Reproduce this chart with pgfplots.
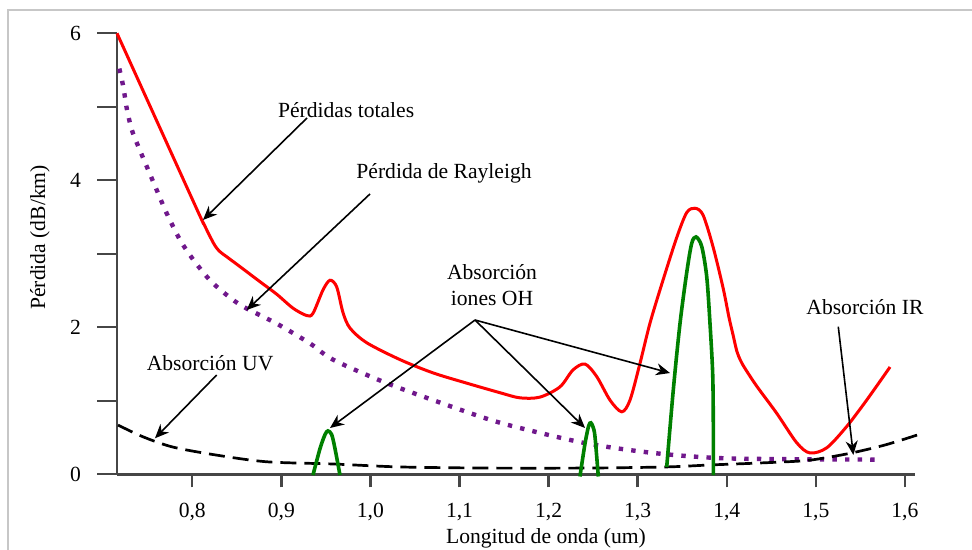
\documentclass[border=0pt]{standalone}
\usepackage{pgfplots}
\pgfplotsset{compat=1.18}
\usepackage{fontspec}
\setmainfont{Liberation Serif}
\usetikzlibrary{arrows.meta}
\definecolor{rayl}{RGB}{112,24,140}
\definecolor{ohgreen}{RGB}{0,128,0}
\definecolor{axgray}{RGB}{70,70,70}
\pgfplotsset{
  common/.style={
    at={(58.5pt,37.85pt)}, anchor=south west,
    scale only axis, width=399pt, height=220.5pt,
    xmin=0.71549, xmax=1.61132, ymin=0, ymax=6,
    axis lines=left,
    axis line style={-, draw=axgray, line width=1.3pt},
    tick align=outside,
    tick style={draw=axgray, line width=1.2pt},
    ticklabel style={font=\fontsize{10.8pt}{13pt}\selectfont},
    /pgf/number format/assume math mode=true,
    clip=false,
  }
}
\begin{document}
\begin{tikzpicture}[font=\fontsize{10.8pt}{13pt}\selectfont]
\useasboundingbox (0,0) rectangle (486pt,275pt);
\draw[black!22, line width=1.2pt] (4pt,0) -- (4pt,270pt) -- (486pt,270pt);
% x axis only
\begin{axis}[common, hide y axis,
  xtick={0.8,0.9,1.0,1.1,1.2,1.3,1.4,1.5,1.6},
  major tick length=6.5pt,
  xticklabel style={yshift=-4.5pt, /pgf/number format/.cd, fixed, fixed zerofill, precision=1, use comma},
]
\end{axis}
% y axis and data
\begin{axis}[common, hide x axis,
  ytick={0,2,4,6}, minor ytick={1,3,5},
  major tick length=10pt, minor tick length=10pt,
  yticklabel style={xshift=-4.5pt},
]
% Perdidas totales
\addplot[red, line width=1.5pt, smooth, tension=0.5] coordinates {
(0.7155,6.00) (0.8050,3.61) (0.8124,3.42) (0.8236,3.15) (0.8300,3.04) (0.8386,2.96) (0.8536,2.825)
(0.8760,2.62) (0.8948,2.45) (0.9131,2.26)
(0.9284,2.16) (0.9355,2.19) (0.9468,2.51) (0.9546,2.64) (0.9621,2.55)
(0.9692,2.20) (0.9770,1.99) (0.9958,1.79) (1.0332,1.56) (1.0702,1.38)
(1.1081,1.24) (1.1454,1.11) (1.1679,1.04) (1.1903,1.05) (1.2128,1.19)
(1.2274,1.42) (1.2409,1.50) (1.2540,1.33) (1.2689,1.01) (1.2821,0.85)
(1.2914,1.01) (1.3026,1.51) (1.3139,2.06) (1.3284,2.64) (1.3438,3.22)
(1.3550,3.56) (1.3643,3.62) (1.3733,3.53) (1.3845,3.10) (1.3958,2.54)
(1.4026,2.13) (1.4070,1.90) (1.4112,1.68) (1.4150,1.56) (1.4200,1.45) (1.4336,1.20)
(1.4561,0.83) (1.4785,0.43) (1.4934,0.29) (1.5122,0.36) (1.5346,0.65)
(1.5571,1.01) (1.5833,1.46)
};
% Rayleigh
\addplot[rayl, line width=2.2pt, dash pattern=on 2.2pt off 4.1pt, smooth, tension=0.5] coordinates {
(0.7181,5.52) (0.7226,5.27) (0.7264,4.98) (0.7320,4.69) (0.7394,4.46)
(0.7488,4.19) (0.7600,3.87) (0.7713,3.55) (0.7862,3.19) (0.8011,2.92)
(0.8199,2.64) (0.8386,2.44) (0.8573,2.28) (0.8948,2.05)
(0.9322,1.78) (0.9580,1.56) (1.0141,1.26) (1.0702,1.01) (1.1297,0.76)
(1.1679,0.63) (1.2428,0.42) (1.3175,0.29) (1.3924,0.22) (1.4800,0.205)
(1.5720,0.20)
};
% UV + IR absorption
\addplot[black, line width=1.35pt, dash pattern=on 8pt off 4pt, smooth, tension=0.5] coordinates {
(0.7166,0.67) (0.7447,0.51) (0.7784,0.37) (0.8278,0.26) (0.8839,0.17)
(0.9580,0.14) (1.0332,0.10) (1.1297,0.085) (1.2420,0.085) (1.3318,0.10)
(1.3810,0.127) (1.4295,0.15) (1.4822,0.18) (1.5036,0.21) (1.5400,0.29)
(1.5780,0.40) (1.6140,0.535)
};
% OH peaks
\addplot[ohgreen, line width=1.8pt, smooth, tension=0.5] coordinates {
(0.9355,-0.01) (0.9434,0.35) (0.9490,0.54) (0.9523,0.59) (0.9565,0.54) (0.9602,0.35) (0.9658,-0.01)
};
\addplot[ohgreen, line width=1.8pt, smooth, tension=0.5] coordinates {
(1.2352,-0.03) (1.2409,0.42) (1.2450,0.66) (1.2475,0.70) (1.2500,0.64) (1.2521,0.51) (1.2558,-0.03)
};
\addplot[ohgreen, line width=1.8pt, smooth, tension=0.5] coordinates {
(1.3326,0.10) (1.3400,1.15) (1.3475,2.05) (1.3550,2.74) (1.3606,3.14) (1.3655,3.23)
(1.3719,3.10) (1.3775,2.69) (1.3812,2.05) (1.3842,1.37) (1.3849,0.69) (1.3849,-0.01)
};
% annotations
\tikzset{ann/.style={-{Stealth[length=7pt,width=6pt]}, line width=0.8pt, black}}
\node at (axis cs:0.9727,4.956) {Pérdidas totales};
\draw[ann] (axis cs:0.9288,4.848) -- (axis cs:0.812,3.46);
\node at (axis cs:1.0826,4.099) {Pérdida de Rayleigh};
\draw[ann] (axis cs:0.9995,3.814) -- (axis cs:0.8611,2.235);
\node at (axis cs:0.82,1.514) {Absorción UV};
\draw[ann] (axis cs:0.8274,1.351) -- (axis cs:0.7581,0.49);
\node[align=center] at (axis cs:1.1365,2.576) {Absorción\\iones OH};
\draw[ann] (axis cs:1.1174,2.099) -- (axis cs:0.9546,0.63);
\draw[ann] (axis cs:1.1174,2.099) -- (axis cs:1.2409,0.63);
\draw[ann] (axis cs:1.1174,2.099) -- (axis cs:1.3363,1.378);
\node at (axis cs:1.5551,2.28) {Absorción IR};
\draw[ann] (axis cs:1.5252,2.008) -- (axis cs:1.5421,0.263);
% axis labels
\node[rotate=90] at (axis description cs:-0.0965,0.537) {Pérdida (dB/km)};
\node at (axis description cs:0.5376,-0.145) {Longitud de onda (um)};
\end{axis}
\end{tikzpicture}
\end{document}
